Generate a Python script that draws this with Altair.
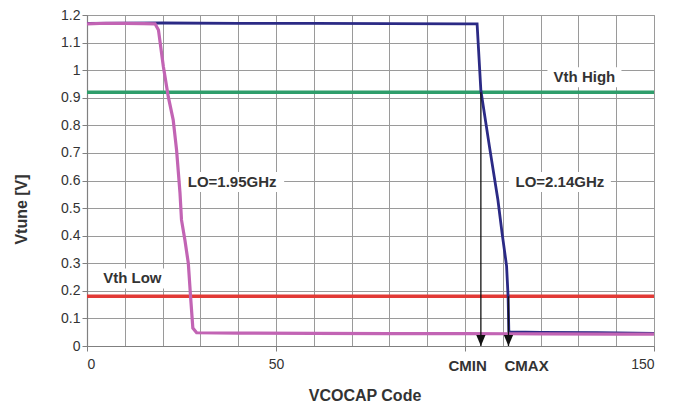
import altair as alt
import pandas as pd

# ---- data ----
pink_x = [0, 5, 10, 15, 18, 18.9, 20.2, 21.5, 22.8, 23.7, 24.6, 25.0, 25.9, 26.8, 27.4, 28.0, 29.0, 40, 60, 80, 100, 120, 140, 150]
pink_y = [1.168, 1.170, 1.170, 1.169, 1.168, 1.146, 1.013, 0.904, 0.820, 0.710, 0.555, 0.457, 0.384, 0.300, 0.179, 0.065, 0.048, 0.047, 0.046, 0.045, 0.045, 0.044, 0.043, 0.043]

navy_x = [0, 20, 40, 60, 80, 100, 103.2, 104.2, 106.5, 108.7, 109.8, 111.0, 111.4, 111.6, 112, 120, 135, 150]
navy_y = [1.170, 1.171, 1.170, 1.170, 1.169, 1.168, 1.168, 0.926, 0.720, 0.530, 0.410, 0.290, 0.180, 0.052, 0.051, 0.049, 0.048, 0.046]

vth_high = 0.92
vth_low = 0.18

arrow_x = [104.2, 111.5]
arrow_top = [0.92, 0.18]

cm_labels = ["CMIN", "CMAX"]
cm_label_x = [100.7, 116.3]

ann_text = ["Vth High", "Vth Low", "LO=1.95GHz", "LO=2.14GHz"]
ann_x = [131.6, 12.0, 38.4, 125.1]
ann_y = [0.974, 0.245, 0.595, 0.595]
ann_halfwidth = [37, 33, 52, 51]

x_grid_values = list(range(0, 151, 10))
x_tick_values = [0, 50, 100, 150]
y_values = [round(i * 0.1, 1) for i in range(13)]

PINK = "#c264b4"
NAVY = "#2b2a85"
GREEN = "#2f9e6b"
RED = "#e23a36"
FONT = "Liberation Sans"

W, H = 567, 331

ann_df = pd.DataFrame({"text": ann_text, "x": ann_x, "y": ann_y})
arrow_df = pd.DataFrame({"x": arrow_x, "top": arrow_top, "bottom": [0, 0]})
cm_df = pd.DataFrame({"label": cm_labels, "x": cm_label_x, "y": [0, 0]})
thr_df = pd.DataFrame({"y": [vth_high, vth_low], "name": ["high", "low"]})
navy_df = pd.DataFrame({"x": navy_x, "y": navy_y})
pink_df = pd.DataFrame({"x": pink_x, "y": pink_y})

xscale = alt.Scale(domain=[0, 150], nice=False, zero=False)
yscale = alt.Scale(domain=[0, 1.2], nice=False)

x_grid_axis = alt.Axis(values=x_grid_values, grid=True, ticks=False, labels=False,
                       domain=True, title=None, orient="bottom")
x_lab_axis = alt.Axis(values=x_tick_values, grid=False, ticks=True, tickSize=5,
                      labels=True, orient="bottom", domain=False,
                      labelExpr="(datum.value == 0 || datum.value == 50 || datum.value == 150) ? datum.label : ''",
                      labelPadding=6, title="VCOCAP Code",
                      titleX=277.5, titleY=49, titleBaseline="middle",
                      titleFontSize=16, titleFontWeight="bold")
y_axis = alt.Axis(values=y_values, format=".1~f", grid=True, tickSize=5, labelPadding=2,
                  title="Vtune [V]", titleX=-65.5, titleY=194, titleBaseline="middle",
                  titleFontSize=16, titleFontWeight="bold")


def Y(field):
    return alt.Y(field, scale=yscale, axis=y_axis)


# white boxes behind annotation texts
boxes = []
for x, y, hw in zip(ann_x, ann_y, ann_halfwidth):
    ratio = 10.0 / hw
    path = f"M-1,-{ratio:.4f}L1,-{ratio:.4f}L1,{ratio:.4f}L-1,{ratio:.4f}Z"
    boxes.append(
        alt.Chart(pd.DataFrame({"x": [x], "y": [y]})).mark_point(
            shape=path, filled=True, fill="white", strokeWidth=0,
            opacity=1, size=(2 * hw) ** 2
        ).encode(x=alt.X("x:Q", scale=xscale, axis=None), y=Y("y:Q"))
    )

thresholds = alt.Chart(thr_df).mark_rule(strokeWidth=3.5).encode(
    y=Y("y:Q"),
    color=alt.Color("name:N", scale=alt.Scale(domain=["high", "low"], range=[GREEN, RED]), legend=None),
)

navy_line = alt.Chart(navy_df).mark_line(strokeWidth=2.8, color=NAVY).encode(
    x=alt.X("x:Q", scale=xscale, axis=None), y=Y("y:Q"))
pink_line = alt.Chart(pink_df).mark_line(strokeWidth=3.2, color=PINK).encode(
    x=alt.X("x:Q", scale=xscale, axis=x_grid_axis), y=Y("y:Q"))

arrows = alt.Chart(arrow_df).mark_rule(color="#111111", strokeWidth=1.3).encode(
    x=alt.X("x:Q", scale=xscale, axis=x_lab_axis),
    y=Y("top:Q"),
    y2="bottom:Q",
)
heads = alt.Chart(arrow_df).mark_point(
    shape="M-0.42,-1L0.42,-1L0,0Z", filled=True, color="#111111", opacity=1, size=484
).encode(x=alt.X("x:Q", scale=xscale, axis=None), y=Y("bottom:Q"))

ann_text_layer = alt.Chart(ann_df).mark_text(
    font=FONT, fontSize=15, fontWeight="bold", color="#333333", baseline="middle", align="center"
).encode(x=alt.X("x:Q", scale=xscale, axis=None), y=Y("y:Q"), text="text:N")

cm_text = alt.Chart(cm_df).mark_text(
    font=FONT, fontSize=15, fontWeight="bold", color="#333333", baseline="middle", align="center", dy=20
).encode(x=alt.X("x:Q", scale=xscale, axis=None), y=Y("y:Q"), text="label:N")

chart = alt.layer(
    *boxes, thresholds, navy_line, pink_line, arrows, heads, ann_text_layer, cm_text
).resolve_axis(x="independent").properties(
    width=W, height=H,
    autosize=alt.AutoSizeParams(type="none"),
    padding={"left": 79, "top": 7, "right": 20, "bottom": 58},
).configure_view(stroke="#9a9a9a", strokeWidth=1).configure_axis(
    gridColor="#9a9a9a", gridWidth=1, gridOpacity=1,
    domainColor="#808080", domainWidth=1.2,
    tickColor="#808080", tickWidth=1,
    labelFont=FONT, labelFontSize=14, labelColor="#333333",
    titleFont=FONT, titleColor="#333333",
)

chart.save("out.html", embed_options={"renderer": "svg", "actions": False})
